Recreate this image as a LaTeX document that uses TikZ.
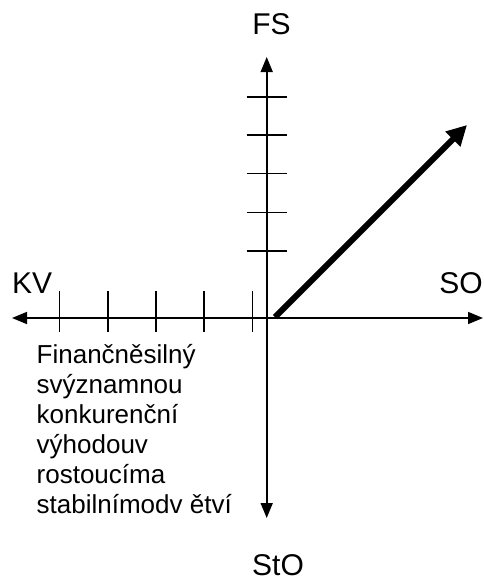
\documentclass[tikz,border=0pt]{standalone}
\usepackage{fontspec}
\setmainfont{Liberation Sans}
\usetikzlibrary{arrows.meta}
\tikzset{
  axis/.style={line width=1.6pt, {Triangle[length=15pt,width=12pt]}-{Triangle[length=15pt,width=12pt]}},
  tick/.style={line width=1.6pt},
  bigarrow/.style={line width=6pt, -{Triangle[length=20pt,width=20pt]}},
  lab/.style={font=\fontsize{30}{34}\selectfont, inner sep=0pt, anchor=base},
  para/.style={font=\fontsize{26}{30}\selectfont, inner sep=0pt, anchor=base west, align=left}
}
\begin{document}
\begin{tikzpicture}[x=1pt,y=-1pt]
\useasboundingbox (0,0) rectangle (483,584);
\coordinate (O) at (266.7,318);
\coordinate (L) at (12,318);
\coordinate (R) at (483,318);
\coordinate (T) at (266.7,57);
\coordinate (B) at (266.7,518);
\draw[axis] (L) -- (R);
\draw[axis] (T) -- (B);
% ticks on negative horizontal axis
\foreach \x in {59.3,107.7,156,204,252.3}
  \draw[tick] (\x,291) -- (\x,332);
% ticks on positive vertical axis
\foreach \y in {96.7,135,173.3,212.3,250.7}
  \draw[tick] (246.7,\y) -- (286.7,\y);
\coordinate (S) at (275,317);
\coordinate (E) at (467,125);
\draw[bigarrow] (S) -- (E);
\node[lab] (fs) at (271.5,34) {FS};
\node[lab] (sto) at (278,575) {StO};
\node[lab, anchor=base west] (kv) at (12,293) {KV};
\node[lab, anchor=base east] (so) at (483,293) {SO};
\node[para] (txt) at (36.5,513.5) {Finančněsilný\\svýznamnou\\konkurenční\\výhodouv\\rostoucíma\\stabilnímodv ětví};
\end{tikzpicture}
\end{document}
